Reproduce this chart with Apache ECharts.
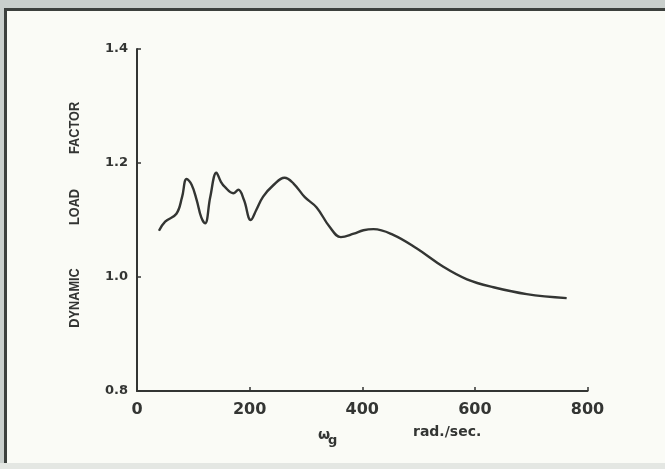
<!DOCTYPE html>
<html>
<head>
<meta charset="utf-8">
<script src="https://cdn.jsdelivr.net/npm/echarts@6/dist/echarts.min.js"></script>
<style>
  html, body { margin: 0; padding: 0; }
  #chart { width: 665px; height: 469px; }
</style>
</head>
<body>
<div id="chart"></div>
<script>
// omega_g (rad./sec.) and dynamic load factor
const omega = [39, 50, 70, 80, 88, 97, 106, 114, 121, 130, 141, 149, 156, 171, 180, 190, 202, 212, 224, 242, 262, 278, 298, 319, 342, 362, 385, 402, 420, 455, 497, 544, 586, 633, 692, 763];
const loadFactor = [1.081, 1.097, 1.111, 1.140, 1.172, 1.162, 1.135, 1.105, 1.094, 1.140, 1.183, 1.167, 1.158, 1.147, 1.153, 1.135, 1.100, 1.118, 1.141, 1.161, 1.174, 1.164, 1.140, 1.122, 1.088, 1.070, 1.076, 1.082, 1.084, 1.074, 1.050, 1.018, 0.996, 0.982, 0.970, 0.963];
const xTicks = [0, 200, 400, 600, 800];
const yTicks = [0.8, 1.0, 1.2, 1.4];
// y title words, bottom to top, with their centre heights
const yTitleWords = ['DYNAMIC', 'LOAD', 'FACTOR'];
const yTitleY = [298, 207, 128];

const ink = '#333533';
const font = 'DejaVu Sans';

const chart = echarts.init(document.getElementById('chart'));

// rotated title words, squeezed a bit like the typed lettering
const titleWords = yTitleWords.map((w, i) => ({
  type: 'text', x: 75, y: yTitleY[i], rotation: Math.PI / 2, scaleX: 0.85,
  style: {
    text: w, fill: ink, font: 'bold 15px "Liberation Sans"',
    align: 'center', verticalAlign: 'middle'
  }
}));

const option = {
  backgroundColor: '#fafbf6',
  animation: false,
  grid: { left: 137, right: 77.5, top: 49, bottom: 78 },
  xAxis: {
    type: 'value',
    min: xTicks[0],
    max: xTicks[xTicks.length - 1],
    interval: 200,
    splitLine: { show: false },
    axisLine: { lineStyle: { color: ink, width: 2 } },
    axisTick: { inside: true, length: 4, lineStyle: { color: ink, width: 1.5 } },
    axisLabel: { color: ink, fontSize: 16, fontWeight: 'bold', fontFamily: font, margin: 11 }
  },
  yAxis: {
    type: 'value',
    min: yTicks[0],
    max: yTicks[yTicks.length - 1],
    interval: 0.2,
    splitLine: { show: false },
    axisLine: { lineStyle: { color: ink, width: 2 } },
    axisTick: { inside: true, length: 4, lineStyle: { color: ink, width: 1.5 } },
    axisLabel: {
      color: ink, fontSize: 13, fontWeight: 'bold', fontFamily: font, margin: 9,
      formatter: v => v.toFixed(1)
    }
  },
  series: [{
    type: 'line',
    data: omega.map((x, i) => [x, loadFactor[i]]),
    smooth: 0.4,
    showSymbol: false,
    lineStyle: { color: ink, width: 2.4 }
  }],
  graphic: [
    // scanned frame
    { type: 'rect', shape: { x: 0, y: 0, width: 665, height: 8 }, style: { fill: '#c9cfcc' }, silent: true },
    { type: 'rect', shape: { x: 0, y: 0, width: 4, height: 469 }, style: { fill: '#c9cfcc' }, silent: true },
    { type: 'rect', shape: { x: 0, y: 463, width: 665, height: 6 }, style: { fill: '#e4e7e3' }, silent: true },
    { type: 'rect', shape: { x: 4, y: 8, width: 661, height: 3 }, style: { fill: '#3c403d' }, silent: true },
    { type: 'rect', shape: { x: 4, y: 8, width: 3, height: 455 }, style: { fill: '#3c403d' }, silent: true },
    ...titleWords,
    {
      type: 'text', x: 318, y: 428,
      style: { text: 'ω', fill: ink, font: 'bold 14px "DejaVu Sans"' }
    },
    {
      type: 'text', x: 328, y: 434,
      style: { text: 'g', fill: ink, font: 'bold 13px "DejaVu Sans"' }
    },
    {
      type: 'text', x: 413, y: 425,
      style: { text: 'rad./sec.', fill: ink, font: 'bold 14px "DejaVu Sans"' }
    }
  ]
};

chart.setOption(option);
</script>
</body>
</html>
